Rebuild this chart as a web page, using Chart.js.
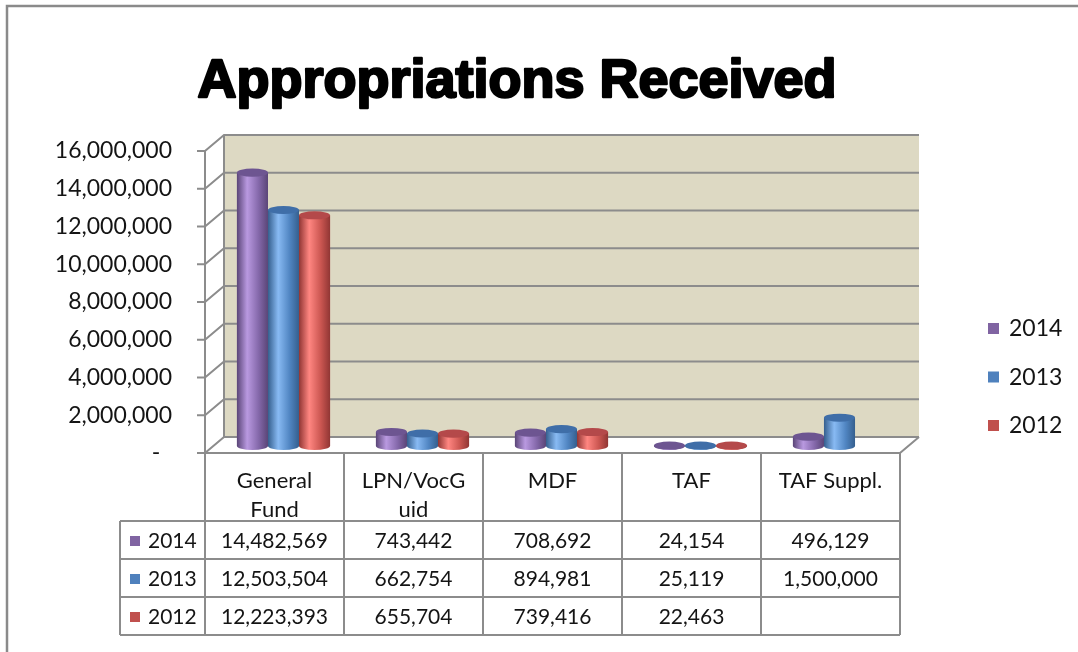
<!DOCTYPE html>
<html>
<head>
<meta charset="utf-8">
<script src="https://cdn.jsdelivr.net/npm/chart.js@4/dist/chart.umd.min.js"></script>
<style>
  html, body { margin: 0; padding: 0; background: #fff; }
  canvas { display: block; }
</style>
</head>
<body>
<canvas id="chart" width="1078" height="652"></canvas>
<script>
'use strict';

// data
const categories = [['General', 'Fund'], ['LPN/VocG', 'uid'], 'MDF', 'TAF', 'TAF Suppl.'];
const seriesNames = ['2014', '2013', '2012'];
const values2014 = [14482569, 743442, 708692, 24154, 496129];
const values2013 = [12503504, 662754, 894981, 25119, 1500000];
const values2012 = [12223393, 655704, 739416, 22463, null];
const yMax = 16000000;
const yStep = 2000000;

const seriesColors = ['#8064a2', '#4f81bd', '#c0504d'];
// cylinder shading per series
const shades = [
    { dark: '#5a4577', light: '#b999e0', mid: '#8468aa', cap: '#6d5591' },
    { dark: '#355f8e', light: '#88baf3', mid: '#5085c2', cap: '#3f6ea8' },
    { dark: '#913634', light: '#ff8681', mid: '#cb5651', cap: '#b4494a' }
];

const gridColor = '#8c8c8c';
const textColor = '#141414';
const depth = { x: 19, y: -16 };
const barShift = { x: 9, y: -7 };
const headerH = 68;
const rowH = 38;

const fmt = v => v == null ? '' : v.toLocaleString('en-US');

function line(ctx, pts) {
    ctx.beginPath();
    ctx.moveTo(pts[0][0], pts[0][1]);
    for (let i = 1; i < pts.length; i++) ctx.lineTo(pts[i][0], pts[i][1]);
    ctx.stroke();
}

const frame3d = {
    id: 'frame3d',
    beforeDatasetsDraw(chart) {
        const { ctx, chartArea: a, scales: { y } } = chart;
        ctx.save();
        // back wall
        ctx.fillStyle = '#ddd9c3';
        ctx.fillRect(a.left + depth.x, a.top + depth.y, a.right - a.left, a.bottom - a.top);
        // floor
        ctx.fillStyle = '#fff';
        ctx.beginPath();
        ctx.moveTo(a.left, a.bottom);
        ctx.lineTo(a.right, a.bottom);
        ctx.lineTo(a.right + depth.x, a.bottom + depth.y);
        ctx.lineTo(a.left + depth.x, a.bottom + depth.y);
        ctx.closePath();
        ctx.fill();

        ctx.strokeStyle = gridColor;
        ctx.lineWidth = 2;
        y.ticks.forEach(t => {
            const py = y.getPixelForValue(t.value);
            line(ctx, [[a.left - 8, py], [a.left, py], [a.left + depth.x, py + depth.y], [a.right + depth.x, py + depth.y]]);
        });
        line(ctx, [[a.left + depth.x, a.top + depth.y], [a.left + depth.x, a.bottom + depth.y]]);
        line(ctx, [[a.left, a.top], [a.left, a.bottom], [a.right, a.bottom], [a.right + depth.x, a.bottom + depth.y]]);
        ctx.restore();

        ctx.save();
        ctx.translate(barShift.x, barShift.y);
    },
    afterDatasetsDraw(chart) {
        const { ctx } = chart;
        chart.data.datasets.forEach((ds, di) => {
            const sh = shades[di];
            chart.getDatasetMeta(di).data.forEach((bar, i) => {
                if (ds.data[i] == null) return;
                const { x, y, base, width } = bar.getProps(['x', 'y', 'base', 'width'], true);
                const l = x - width / 2, r = x + width / 2, ry = width * 0.13;
                const g = ctx.createLinearGradient(l, 0, r, 0);
                g.addColorStop(0, sh.dark);
                g.addColorStop(0.33, sh.light);
                g.addColorStop(0.7, sh.mid);
                g.addColorStop(1, sh.dark);
                ctx.fillStyle = g;
                ctx.beginPath();
                ctx.moveTo(l, y);
                ctx.lineTo(l, base);
                ctx.ellipse(x, base, width / 2, ry, 0, Math.PI, 0, true);
                ctx.lineTo(r, y);
                ctx.closePath();
                ctx.fill();
                ctx.fillStyle = sh.cap;
                ctx.beginPath();
                ctx.ellipse(x, y, width / 2, ry, 0, 0, Math.PI * 2);
                ctx.fill();
            });
        });
        ctx.restore();
    }
};

const extras = {
    id: 'extras',
    afterDraw(chart) {
        const { ctx, chartArea: a, scales: { x } } = chart;
        const series = [values2014, values2013, values2012];
        const colW = (x.right - x.left) / categories.length;
        const top = a.bottom;
        const bottom = top + headerH + rowH * series.length;
        const labelLeft = 120;

        ctx.save();
        // outer frame
        ctx.strokeStyle = '#8a8a8a';
        ctx.lineWidth = 2.5;
        ctx.strokeRect(7, 6, 1200, 800);

        // title
        ctx.font = 'bold 54px "Liberation Sans", Arial, sans-serif';
        ctx.textAlign = 'center';
        ctx.textBaseline = 'alphabetic';
        ctx.fillStyle = '#000';
        ctx.strokeStyle = '#000';
        ctx.lineWidth = 2.4;
        ctx.lineJoin = 'round';
        ctx.fillText('Appropriations Received', 517, 97);
        ctx.strokeText('Appropriations Received', 517, 97);

        // data table grid
        ctx.strokeStyle = gridColor;
        ctx.lineWidth = 2;
        for (let c = 0; c <= categories.length; c++) {
            const px = x.left + c * colW;
            line(ctx, [[px, top], [px, bottom]]);
        }
        for (let r = 0; r <= series.length; r++) {
            const py = top + headerH + r * rowH;
            line(ctx, [[labelLeft, py], [x.right, py]]);
        }
        line(ctx, [[labelLeft, top + headerH], [labelLeft, bottom]]);

        // table cells
        ctx.font = '21px Lato, "Open Sans", sans-serif';
        ctx.textBaseline = 'middle';
        ctx.fillStyle = textColor;
        series.forEach((vals, r) => {
            const cy = top + headerH + r * rowH + rowH / 2 + 1;
            ctx.fillStyle = seriesColors[r];
            ctx.fillRect(130, cy - 5, 10, 10);
            ctx.fillStyle = textColor;
            ctx.textAlign = 'left';
            ctx.fillText(seriesNames[r], 148, cy);
            ctx.textAlign = 'center';
            vals.forEach((v, i) => ctx.fillText(fmt(v), x.getPixelForValue(i), cy));
        });

        // legend
        ctx.font = '23px Lato, "Open Sans", sans-serif';
        ctx.textAlign = 'left';
        seriesNames.forEach((name, i) => {
            const cy = 328 + i * 48.5;
            ctx.fillStyle = seriesColors[i];
            ctx.fillRect(988, cy - 5, 11, 11);
            ctx.fillStyle = textColor;
            ctx.fillText(name, 1009, cy + 1);
        });
        ctx.restore();
    }
};

new Chart(document.getElementById('chart'), {
    type: 'bar',
    data: {
        labels: categories,
        datasets: [
            { label: seriesNames[0], data: values2014, backgroundColor: seriesColors[0] },
            { label: seriesNames[1], data: values2013, backgroundColor: seriesColors[1] },
            { label: seriesNames[2], data: values2012, backgroundColor: seriesColors[2] }
        ]
    },
    options: {
        responsive: false,
        animation: false,
        layout: { padding: { top: 151, right: 178, left: 0, bottom: 0 } },
        datasets: { bar: { categoryPercentage: 0.67, barPercentage: 1, borderWidth: 0, clip: false } },
        plugins: { legend: { display: false }, title: { display: false }, tooltip: { enabled: false } },
        scales: {
            x: {
                grid: { display: false, drawTicks: false },
                border: { display: false },
                ticks: { color: textColor, font: { family: 'Lato', size: 22, lineHeight: 1.3 }, padding: 14, maxRotation: 0, autoSkip: false },
                afterFit: s => { s.height = 199; }
            },
            y: {
                min: 0,
                max: yMax,
                grid: { display: false, drawTicks: false },
                border: { display: false },
                ticks: {
                    stepSize: yStep,
                    color: textColor,
                    font: { family: 'Lato', size: 23 },
                    padding: 33,
                    callback: v => v === 0 ? '-  ' : v.toLocaleString('en-US')
                },
                afterFit: s => { s.width = 205; }
            }
        }
    },
    plugins: [frame3d, extras]
});
</script>
</body>
</html>
